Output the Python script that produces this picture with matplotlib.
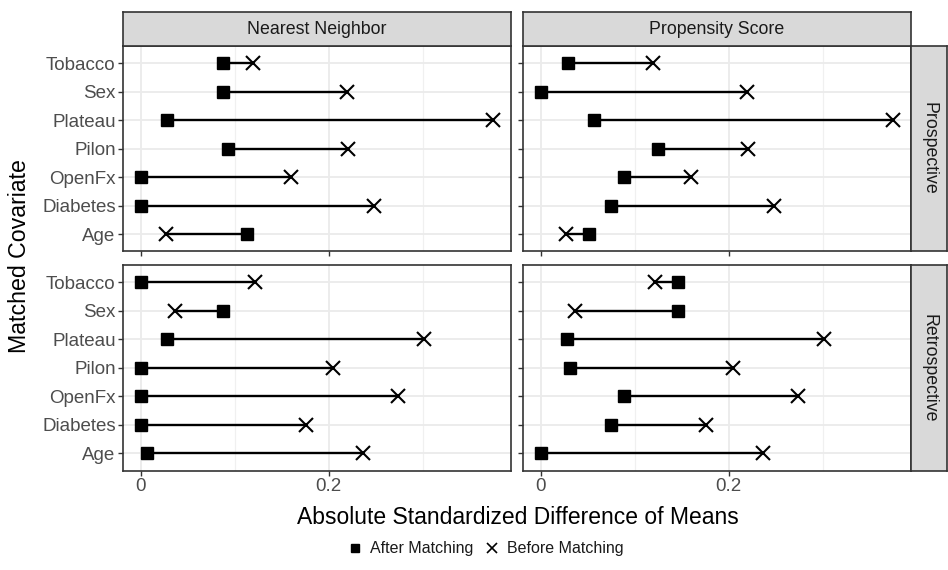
import numpy as np
import matplotlib.pyplot as plt
from matplotlib.lines import Line2D

plt.rcParams['font.family'] = ['Liberation Sans', 'DejaVu Sans']

# 共変量（下から上の順）
covariates = ['Age', 'Diabetes', 'OpenFx', 'Pilon', 'Plateau', 'Sex', 'Tobacco']

# Prospective
before_pro = [0.027, 0.248, 0.160, 0.221, 0.375, 0.219, 0.119]
after_pro_nn = [0.113, 0.0, 0.0, 0.093, 0.028, 0.087, 0.087]
after_pro_ps = [0.051, 0.075, 0.088, 0.125, 0.056, 0.0, 0.029]

# Retrospective
before_retro = [0.236, 0.176, 0.274, 0.205, 0.301, 0.036, 0.121]
after_retro_nn = [0.006, 0.0, 0.0, 0.0, 0.028, 0.087, 0.0]
after_retro_ps = [0.0, 0.075, 0.088, 0.031, 0.028, 0.146, 0.146]

methods = ['Nearest Neighbor', 'Propensity Score']
cohorts = ['Prospective', 'Retrospective']
xticks = [0, 0.2]
xticklabels = ['0', '0.2']

panels = {
  (0, 0): (after_pro_nn, before_pro),
  (0, 1): (after_pro_ps, before_pro),
  (1, 0): (after_retro_nn, before_retro),
  (1, 1): (after_retro_ps, before_retro),
}

# x範囲（ggplot風に5%拡張）
allv = np.concatenate([np.array(v) for pair in panels.values() for v in pair])
lo, hi = allv.min(), allv.max()
pad = 0.05 * (hi - lo)
xlim = (lo - pad, hi + pad)

fig = plt.figure(figsize=(9.48, 5.70), dpi=100)

W, H = 948.0, 570.0
lefts = [123.3, 523.3]
pw = 387.4
tops = [46.0, 265.0]
ph = 205.5
border = '#333333'

y = np.arange(len(covariates))

for (r, c), (after, before) in panels.items():
  ax = fig.add_axes([lefts[c] / W, 1 - (tops[r] + ph) / H, pw / W, ph / H])
  ax.set_xlim(*xlim)
  ax.set_ylim(-0.6, len(covariates) - 0.4)
  ax.set_xticks(xticks)
  ax.set_xticks([0.1, 0.3], minor=True)
  ax.set_yticks(y)
  ax.grid(True, which='major', color='#EBEBEB', lw=1.3, zorder=0)
  ax.grid(True, which='minor', axis='x', color='#F0F0F0', lw=0.9, zorder=0)
  for s in ax.spines.values():
    s.set_color(border)
    s.set_linewidth(1.2)
  ax.tick_params(axis='both', which='major', length=3.5, width=1.0, color=border,
                 labelcolor='#4D4D4D', labelsize=13.5, pad=2)
  ax.tick_params(axis='x', which='minor', length=0)

  if c == 0:
    ax.set_yticklabels(covariates)
  else:
    ax.tick_params(axis='y', labelleft=False)
  if r == 1:
    ax.set_xticklabels(xticklabels)
  else:
    ax.tick_params(axis='x', labelbottom=False)

  for i in range(len(covariates)):
    ax.plot([after[i], before[i]], [y[i], y[i]], color='black', lw=1.7, zorder=2)
  ax.plot(after, y, 's', color='black', ms=9, zorder=3, linestyle='none')
  ax.plot(before, y, 'x', color='black', ms=10, mew=1.5, zorder=4, linestyle='none')

# 上のストリップ
for c in range(2):
  sa = fig.add_axes([lefts[c] / W, 1 - tops[0] / H, pw / W, 34 / H])
  sa.set_facecolor('#D9D9D9')
  sa.set_xticks([])
  sa.set_yticks([])
  for s in sa.spines.values():
    s.set_color(border)
    s.set_linewidth(1.2)
  sa.text(0.5, 0.5, methods[c], ha='center', va='center', fontsize=12.8,
          color='#1A1A1A', transform=sa.transAxes)

# 右のストリップ
for r in range(2):
  sa = fig.add_axes([(lefts[1] + pw) / W, 1 - (tops[r] + ph) / H, 36 / W, ph / H])
  sa.set_facecolor('#D9D9D9')
  sa.set_xticks([])
  sa.set_yticks([])
  for s in sa.spines.values():
    s.set_color(border)
    s.set_linewidth(1.2)
  sa.text(0.5, 0.5, cohorts[r], ha='center', va='center', fontsize=12.8,
          color='#1A1A1A', rotation=-90, transform=sa.transAxes)

fig.text(518 / W, 1 - 518 / H, 'Absolute Standardized Difference of Means',
         ha='center', va='center', fontsize=16.5)
fig.text(20 / W, 1 - 256 / H, 'Matched Covariate', ha='center', va='center',
         fontsize=16.7, rotation=90)

handles = [
  Line2D([], [], marker='s', color='black', linestyle='none', ms=6),
  Line2D([], [], marker='x', color='black', linestyle='none', ms=7, mew=1.2),
]
fig.legend(handles, ['After Matching', 'Before Matching'], loc='center',
           bbox_to_anchor=(486 / W, 1 - 549 / H), ncol=2, frameon=False,
           fontsize=11.5, handlelength=0.8, handletextpad=0.5, columnspacing=0.8,
           labelcolor='#1A1A1A')

fig.savefig('out.png', dpi=100)
